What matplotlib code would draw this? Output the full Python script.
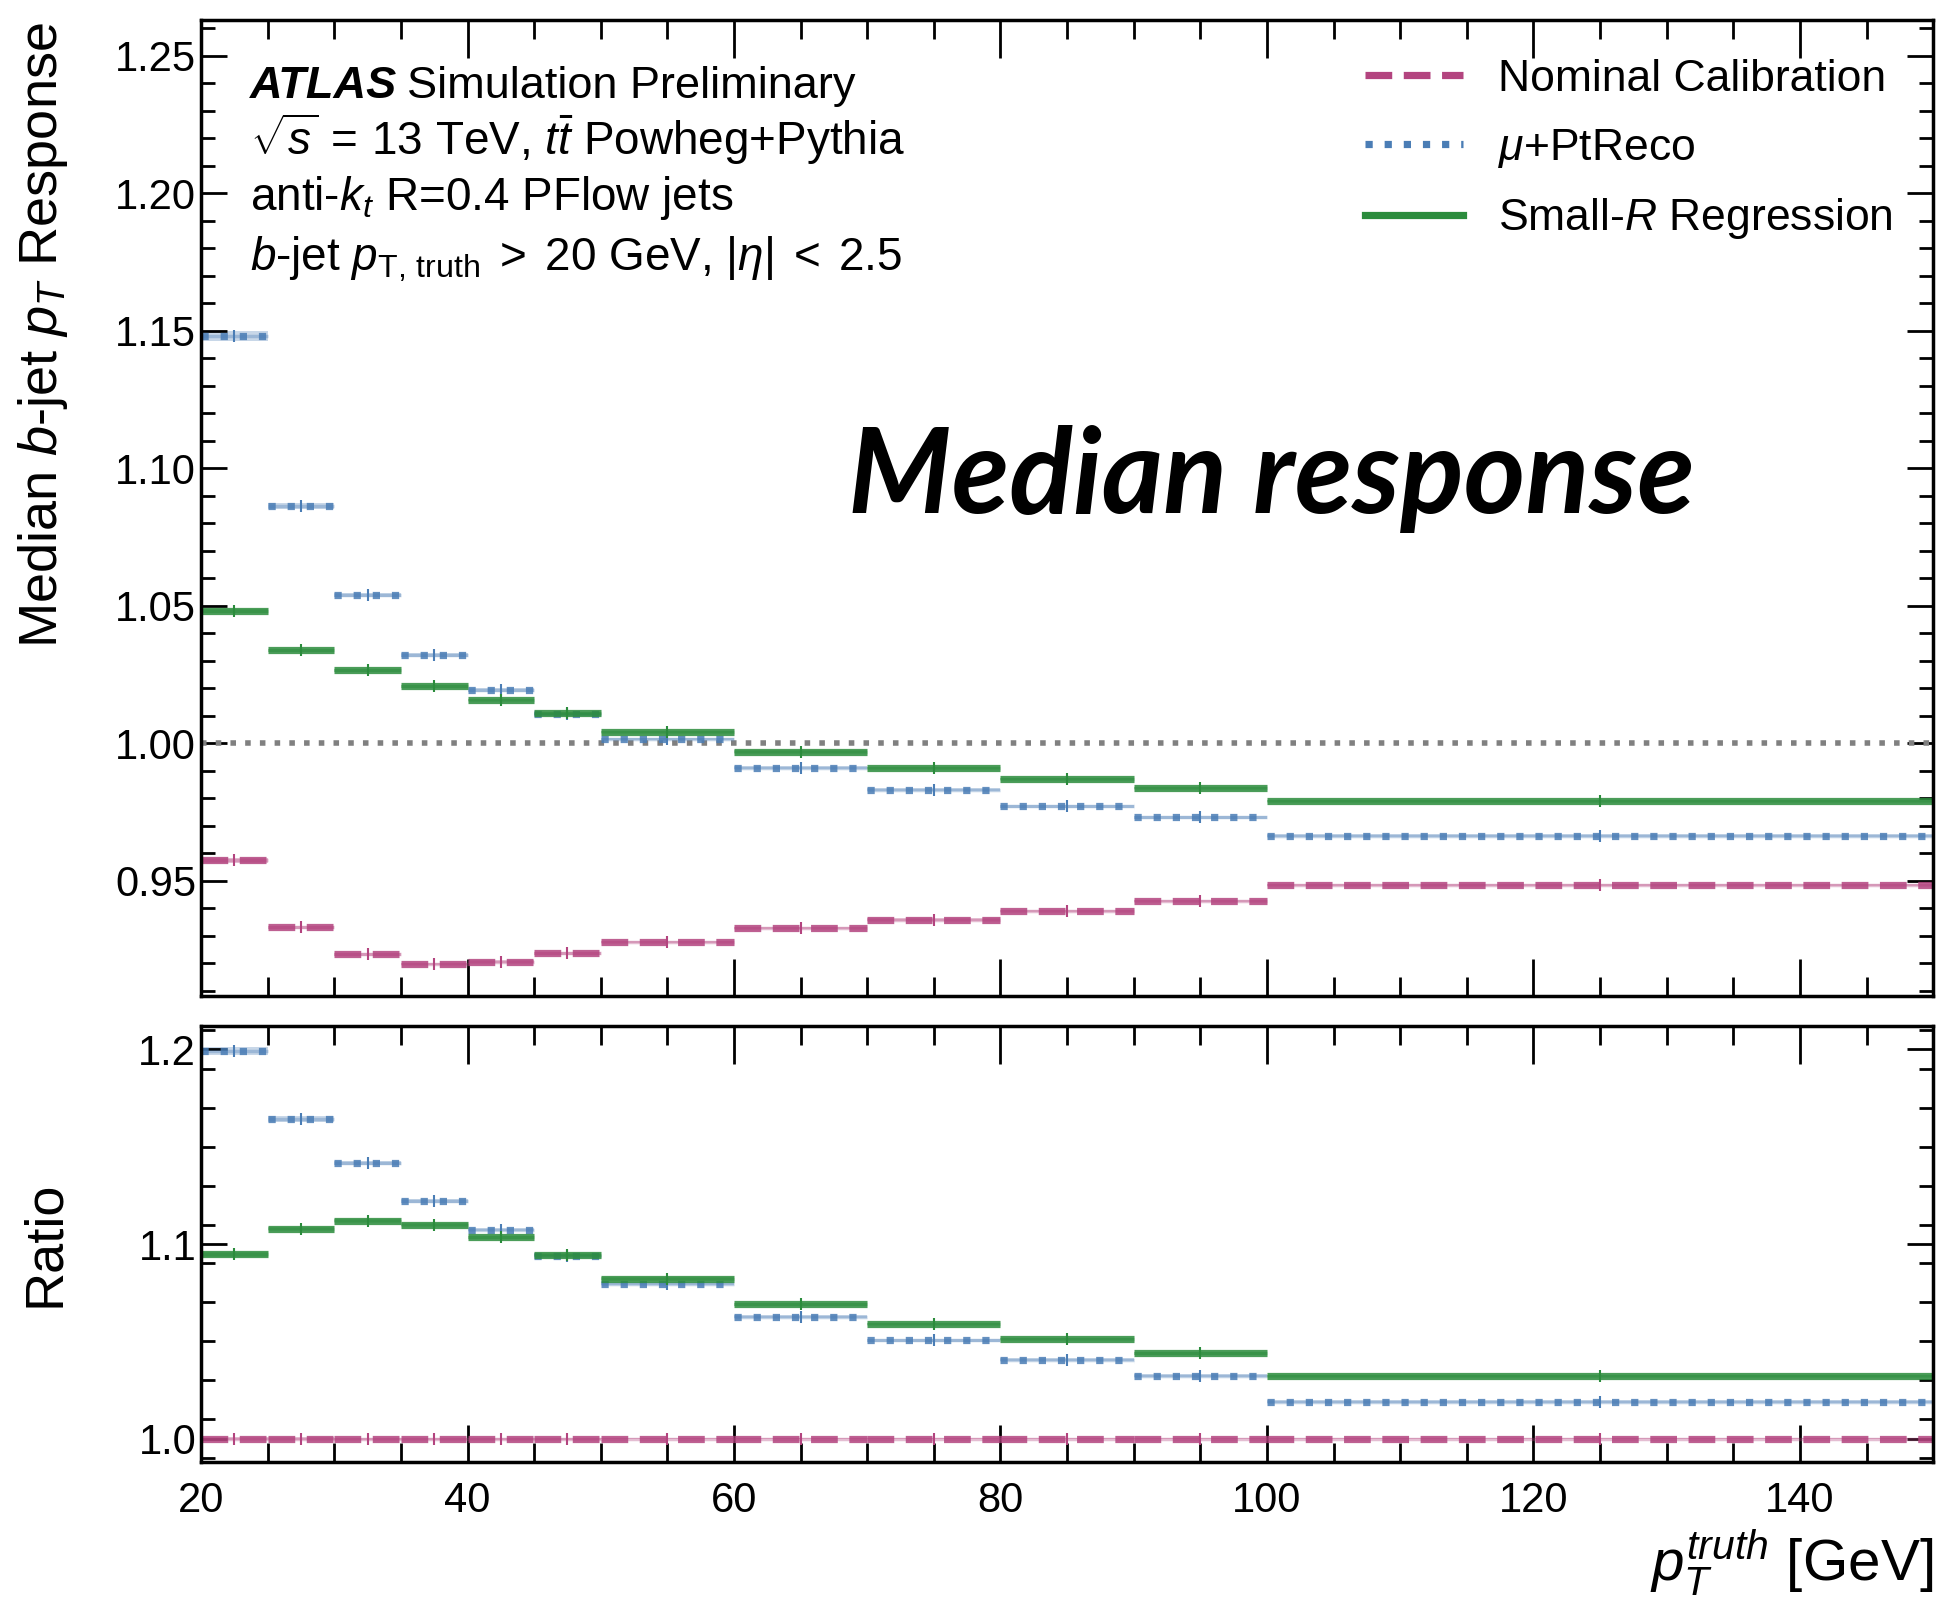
import numpy as np
import matplotlib
matplotlib.use("Agg")
import matplotlib.pyplot as plt

plt.rcParams['font.family'] = ['Liberation Sans', 'DejaVu Sans']
plt.rcParams['mathtext.fontset'] = 'custom'
plt.rcParams['mathtext.rm'] = 'Liberation Sans'
plt.rcParams['mathtext.it'] = 'Liberation Sans:italic'
plt.rcParams['mathtext.bf'] = 'Liberation Sans:bold'

# bin edges in truth pT [GeV]
bin_edges = [20, 25, 30, 35, 40, 45, 50, 60, 70, 80, 90, 100, 150]

# median response per bin
nominal = [0.9573, 0.9330, 0.9232, 0.9196, 0.9205, 0.9236, 0.9277, 0.9326, 0.9358, 0.9389, 0.9425, 0.9483]
mu_ptreco = [1.1480, 1.0863, 1.0539, 1.0319, 1.0193, 1.0105, 1.0015, 0.9910, 0.9830, 0.9770, 0.9730, 0.9663]
regression = [1.0480, 1.0337, 1.0265, 1.0207, 1.0157, 1.0108, 1.0040, 0.9969, 0.9910, 0.9870, 0.9838, 0.9789]

# statistical uncertainty on the median
nominal_err = [0.0008, 0.0006, 0.0005, 0.0005, 0.0005, 0.0005, 0.0004, 0.0004, 0.0004, 0.0004, 0.0004, 0.0004]
mu_ptreco_err = [0.0019, 0.0012, 0.0008, 0.0007, 0.0006, 0.0006, 0.0005, 0.0005, 0.0005, 0.0005, 0.0005, 0.0005]
regression_err = [0.0008, 0.0006, 0.0005, 0.0005, 0.0005, 0.0005, 0.0004, 0.0004, 0.0004, 0.0004, 0.0004, 0.0004]

labels = ["Nominal Calibration", r"$\mu$+PtReco", r"Small-$R$ Regression"]
colors = ["#b3447f", "#4a7db5", "#2b8c3c"]
styles = ["--", ":", "-"]

edges = np.array(bin_edges)
lo, hi = edges[:-1], edges[1:]
centers = 0.5 * (lo + hi)
widths = hi - lo
series = [np.array(nominal), np.array(mu_ptreco), np.array(regression)]
errors = [np.array(nominal_err), np.array(mu_ptreco_err), np.array(regression_err)]
ratios = [s / series[0] for s in series]
ratio_errs = [r * np.sqrt((e / s) ** 2 + (errors[0] / series[0]) ** 2) * (0 if i == 0 else 1)
              + (errors[0] / series[0] if i == 0 else 0)
              for i, (r, s, e) in enumerate(zip(ratios, series, errors))]

fig = plt.figure(figsize=(19.37, 15.99), dpi=100)
ax1 = fig.add_axes([0.1038, 0.3771, 0.8942, 0.6104])
ax2 = fig.add_axes([0.1038, 0.0857, 0.8942, 0.2726], sharex=ax1)


def draw(ax, values, errs):
    handles = []
    for vals, err, col, ls, lab in zip(values, errs, colors, styles, labels):
        # light uncertainty band, the line itself, and a tick at the bin centre
        ax.bar(centers, 2 * err, width=widths, bottom=vals - err, color=col,
               alpha=0.3, linewidth=0)
        ax.hlines(vals, lo, hi, colors=col, alpha=0.35, linewidth=2.5)
        ax.hlines(vals, lo, hi, colors=col, linestyles=ls, linewidth=5.2, alpha=0.85)
        ax.plot(centers, vals, ls="none", marker="|", ms=9, mew=1.5, color=col)
        h, = ax.plot([], [], color=col, ls=ls, lw=5.2, label=lab)
        handles.append(h)
    return handles


ax1.axhline(1.0, color="#808080", ls=":", lw=4)
handles = draw(ax1, series, errors)
draw(ax2, ratios, ratio_errs)

ax1.set_xlim(20, 150)
ax1.set_ylim(0.908, 1.263)
ax2.set_ylim(0.988, 1.212)

ax1.set_yticks([0.95, 1.00, 1.05, 1.10, 1.15, 1.20, 1.25])
ax1.set_yticks(np.arange(0.91, 1.265, 0.01), minor=True)
ax2.set_yticks([1.0, 1.1, 1.2])
ax2.set_yticks(np.arange(0.99, 1.215, 0.02), minor=True)
ax2.set_xticks([20, 40, 60, 80, 100, 120, 140])
ax2.set_xticks(np.arange(20, 151, 5), minor=True)

for ax in (ax1, ax2):
    ax.tick_params(axis="both", which="both", direction="in", top=True, right=True,
                   labelsize=30, width=2)
    ax.tick_params(axis="x", which="major", length=27, pad=14)
    ax.tick_params(axis="x", which="minor", length=14)
    ax.tick_params(axis="y", which="major", length=19)
    ax.tick_params(axis="y", which="minor", length=10)
    for s in ax.spines.values():
        s.set_linewidth(2.5)
ax1.tick_params(labelbottom=False)

ax1.set_yticklabels(["0.95", "1.00", "1.05", "1.10", "1.15", "1.20", "1.25"])
ax2.set_yticklabels(["1.0", "1.1", "1.2"])

ax1.set_ylabel(r"Median $b$-jet $p_T$ Response", fontsize=39, loc="top")
ax2.set_ylabel("Ratio", fontsize=39)
ax2.set_xlabel(r"$p_T^{truth}$ [GeV]", fontsize=42, loc="right")
ax1.yaxis.set_label_coords(-0.0756, 0.998)
ax2.yaxis.set_label_coords(-0.0756, 0.5)

atlas = ax1.text(0.0283, 0.920, "ATLAS", transform=ax1.transAxes, fontsize=32.5,
                 fontweight="bold", style="italic", va="baseline")
ax1.annotate("Simulation Preliminary", xy=(1, 0), xycoords=atlas,
             xytext=(7, 0), textcoords="offset points", fontsize=32.5, va="bottom")
info = [r"$\sqrt{s}\,=\,13$ TeV, $t\bar{t}$ Powheg+Pythia",
        r"anti-$k_t$ R=0.4 PFlow jets",
        r"$b$-jet $p_{\mathrm{T,\,truth}}\;>\;20$ GeV, $|\eta|\;<\;2.5$"]
info_y = [0.862, 0.805, 0.743]
for line, yy in zip(info, info_y):
    ax1.text(0.0283, yy, line, transform=ax1.transAxes, fontsize=33, va="baseline")

ax1.text(0.618, 0.530, "Median response", transform=ax1.transAxes, fontsize=85,
         family="Lato", fontweight="bold", style="italic", ha="center", va="center")

ax1.legend(handles=handles, loc="upper right", fontsize=32, frameon=False,
           handlelength=2.2, handletextpad=0.8, labelspacing=0.6,
           bbox_to_anchor=(1.0, 1.001))

fig.savefig("out.png", dpi=100)
